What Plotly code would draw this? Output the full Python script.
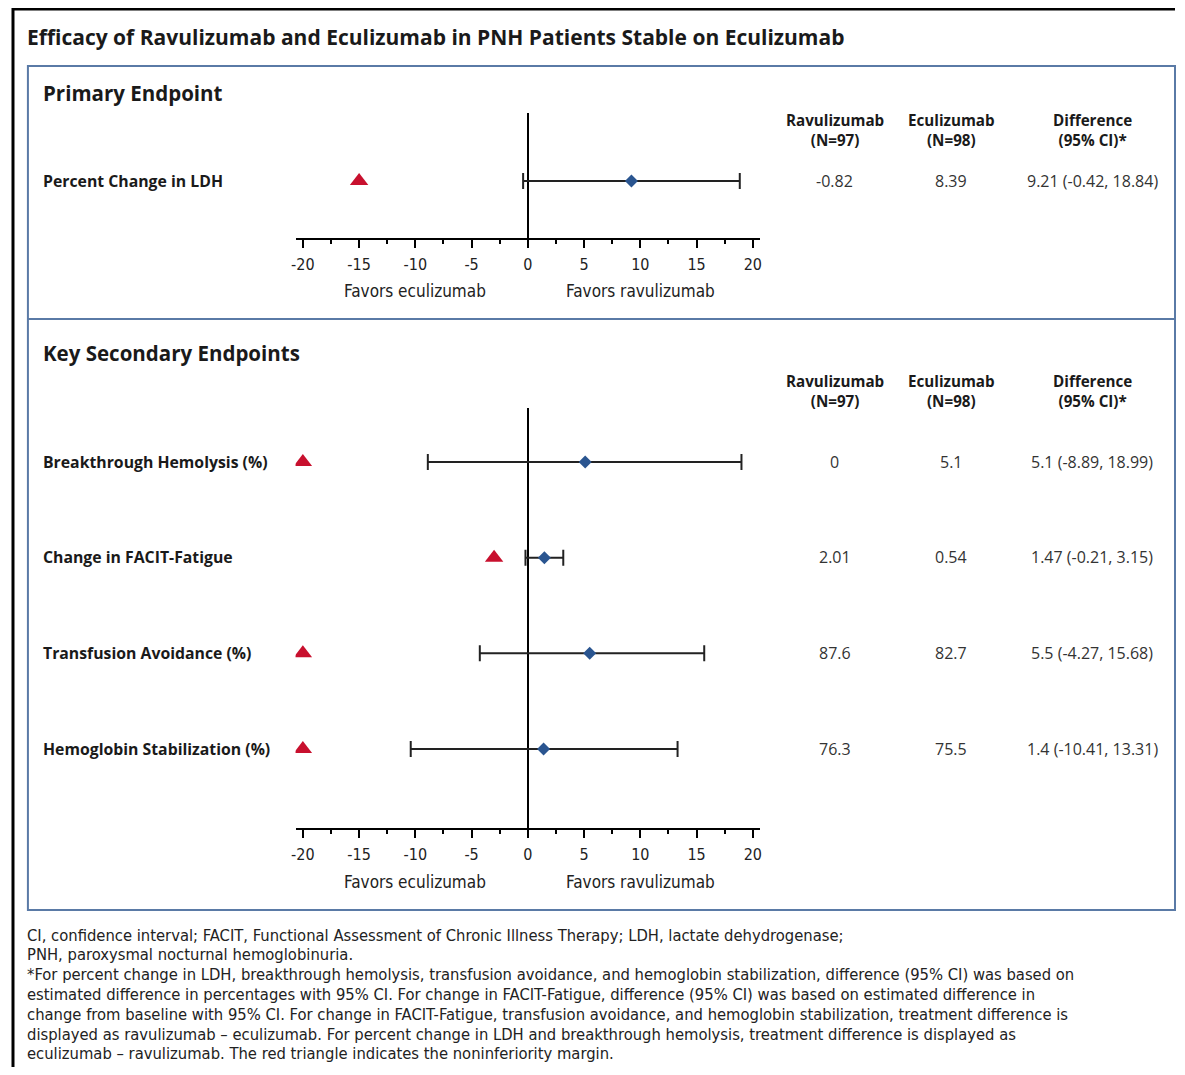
import plotly.graph_objects as go

# page is photographed at 1185x1075; default body margin of 8px is compensated
PAGE_W, PAGE_H = 1185, 1075
OFF = 8
FW, FH = PAGE_W - 2 * OFF, PAGE_H - 2 * OFF

# ---------------- data ----------------
primary_labels = ["Percent Change in LDH"]
primary_est = [9.21]
primary_lo = [-0.42]
primary_hi = [18.84]
primary_margin = [-15]
primary_ravu = ["-0.82"]
primary_ecu = ["8.39"]
primary_diff = ["9.21 (-0.42, 18.84)"]

sec_labels = ["Breakthrough Hemolysis (%)", "Change in FACIT-Fatigue",
              "Transfusion Avoidance (%)", "Hemoglobin Stabilization (%)"]
sec_est = [5.1, 1.47, 5.5, 1.4]
sec_lo = [-8.89, -0.21, -4.27, -10.41]
sec_hi = [18.99, 3.15, 15.68, 13.31]
sec_margin = [-20, -3, -20, -20]
sec_ravu = ["0", "2.01", "87.6", "76.3"]
sec_ecu = ["5.1", "0.54", "82.7", "75.5"]
sec_diff = ["5.1 (-8.89, 18.99)", "1.47 (-0.21, 3.15)",
            "5.5 (-4.27, 15.68)", "1.4 (-10.41, 13.31)"]

tick_vals = [-20, -15, -10, -5, 0, 5, 10, 15, 20]
tick_text = ["-20", "-15", "-10", "-5", "0", "5", "10", "15", "20"]
col_headers = ["Ravulizumab<br>(N=97)", "Eculizumab<br>(N=98)", "Difference<br>(95% CI)*"]

title_text = "Efficacy of Ravulizumab and Eculizumab in PNH Patients Stable on Eculizumab"
footnotes = [
    "CI, confidence interval; FACIT, Functional Assessment of Chronic Illness Therapy; LDH, lactate dehydrogenase;",
    "PNH, paroxysmal nocturnal hemoglobinuria.",
    "*For percent change in LDH, breakthrough hemolysis, transfusion avoidance, and hemoglobin stabilization, difference (95% CI) was based on",
    "estimated difference in percentages with 95% CI. For change in FACIT-Fatigue, difference (95% CI) was based on estimated difference in",
    "change from baseline with 95% CI. For change in FACIT-Fatigue, transfusion avoidance, and hemoglobin stabilization, treatment difference is",
    "displayed as ravulizumab \u2013 eculizumab. For percent change in LDH and breakthrough hemolysis, treatment difference is displayed as",
    "eculizumab \u2013 ravulizumab. The red triangle indicates the noninferiority margin.",
]

# ---------------- helpers (page pixel -> paper) ----------------
def px(x):
    return (x - OFF) / FW

def py(y):
    return 1 - (y - OFF) / FH

HEAD = "Open Sans"
TEXT = "#1a1a1a"
BLUE = "#2a5590"
RED = "#c8102e"
BOX = "#5a7aa6"
COND = "Liberation Sans Narrow, DejaVu Sans Condensed, sans-serif"

fig = go.Figure()

prim_y = [1]
sec_y = [4, 3, 2, 1]

def add_forest(est, lo, hi, margin, ys, xa, ya):
    fig.add_trace(go.Scatter(
        x=est, y=ys, mode="markers", xaxis=xa, yaxis=ya,
        marker=dict(symbol="diamond", size=10, color=BLUE),
        error_x=dict(type="data", symmetric=False,
                     array=[h - e for h, e in zip(hi, est)],
                     arrayminus=[e - l for e, l in zip(est, lo)],
                     color="#222222", thickness=2, width=8),
        showlegend=False, hoverinfo="skip"))
    fig.add_trace(go.Scatter(
        x=margin, y=ys, mode="markers", xaxis=xa, yaxis=ya,
        marker=dict(symbol="triangle-up", size=16, color=RED),
        showlegend=False, hoverinfo="skip"))

add_forest(primary_est, primary_lo, primary_hi, primary_margin, prim_y, "x", "y")
add_forest(sec_est, sec_lo, sec_hi, sec_margin, sec_y, "x2", "y2")

xdom = [px(293), px(760)]
xcommon = dict(
    range=[-20.65, 20.65], domain=xdom, showgrid=False,
    zeroline=True, zerolinecolor="black", zerolinewidth=2,
    showline=True, linecolor="black", linewidth=2,
    tickvals=tick_vals, ticktext=tick_text, ticks="outside", ticklen=8, tickwidth=2,
    tickcolor="black", ticklabelstandoff=3,
    minor=dict(dtick=2.5, tick0=0, ticks="outside", ticklen=4, tickwidth=2, tickcolor="black"),
    tickfont=dict(family=COND, size=16, color="#222222"),
    fixedrange=True,
)
unit = 95.67
fig.update_layout(
    width=FW, height=FH, margin=dict(l=0, r=0, t=0, b=0),
    paper_bgcolor="white", plot_bgcolor="white",
    xaxis=dict(anchor="y", **xcommon),
    yaxis=dict(domain=[py(238), py(113)], range=[1 - 57 / unit, 1 + 68 / unit],
               visible=False, anchor="x"),
    xaxis2=dict(anchor="y2", **xcommon),
    yaxis2=dict(domain=[py(828), py(408)],
                range=[1 - (828 - 749) / unit, 4 + (462 - 408) / unit],
                visible=False, anchor="x2"),
)

ann = []
def text(x, y, s, size, bold=False, family=HEAD, xanchor="left", color=TEXT):
    ann.append(dict(x=px(x), y=py(y), xref="paper", yref="paper",
                    text=(f"<b>{s}</b>" if bold else s),
                    showarrow=False, xanchor=xanchor, yanchor="middle",
                    font=dict(family=family, size=size, color=color)))

text(21, 37, title_text, 21, bold=True)
text(37, 93, "Primary Endpoint", 20.5, bold=True)
text(37, 353, "Key Secondary Endpoints", 20.5, bold=True)

col_x = [835, 952, 1094]
for hy in (130, 391):
    for cx, h in zip(col_x, col_headers):
        text(cx, hy, h, 15.2, bold=True, xanchor="center")

for lab, r, e, d, yy in zip(primary_labels, primary_ravu, primary_ecu, primary_diff, [181]):
    text(37, yy, lab, 15.8, bold=True)
    for cx, s in zip(col_x, [r, e, d]):
        text(cx, yy, s, 16, xanchor="center", color="#333333")

row_px = [462, 557, 653, 749]
for lab, r, e, d, yy in zip(sec_labels, sec_ravu, sec_ecu, sec_diff, row_px):
    text(37, yy, lab, 15.8, bold=True)
    for cx, s in zip(col_x, [r, e, d]):
        text(cx, yy, s, 16, xanchor="center", color="#333333")

for xa, ty in (("x", 291), ("x2", 882)):
    for xv, s in ((-10, "Favors eculizumab"), (10, "Favors ravulizumab")):
        ann.append(dict(x=xv, y=py(ty), xref=xa, yref="paper", text=s, showarrow=False,
                        xanchor="center", yanchor="middle",
                        font=dict(family=COND, size=17, color="#222222")))

for i, line in enumerate(footnotes):
    text(21, 935 + i * 19.8, line, 16.45, family=COND, color="#222222")

fig.update_layout(annotations=ann)

shapes = [
    dict(type="line", xref="paper", yref="paper", x0=px(8), x1=1, y0=py(9), y1=py(9),
         line=dict(color="black", width=3)),
    dict(type="line", xref="paper", yref="paper", x0=px(9), x1=px(9), y0=py(8), y1=0,
         line=dict(color="black", width=3)),
    dict(type="rect", xref="paper", yref="paper", x0=px(24), x1=px(1177), y0=py(66), y1=py(910),
         line=dict(color=BOX, width=2)),
    dict(type="line", xref="paper", yref="paper", x0=px(24), x1=px(1177), y0=py(319), y1=py(319),
         line=dict(color=BOX, width=2)),
]
fig.update_layout(shapes=shapes)

fig.write_html("out.html")
